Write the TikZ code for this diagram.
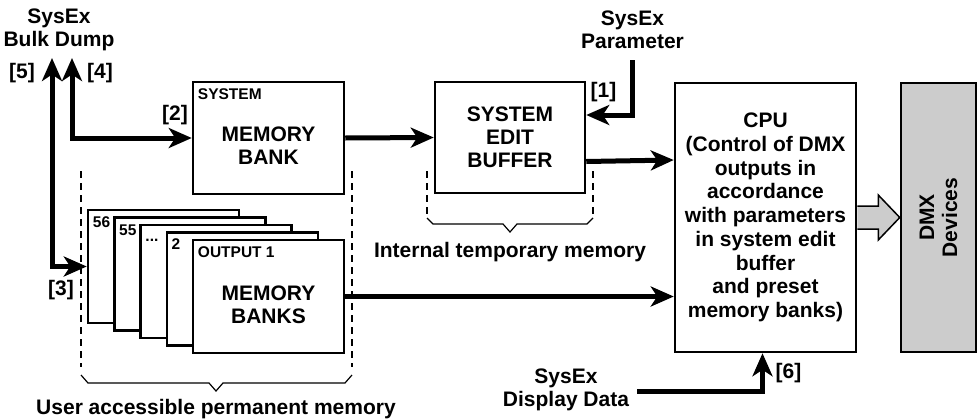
\documentclass[tikz,border=0pt]{standalone}
\usepackage{fontspec}
\setmainfont{Liberation Sans}
\usetikzlibrary{arrows.meta,calc}

\tikzset{
  blk/.style={draw, line width=2.5pt, fill=white, inner sep=0pt, align=center},
  card/.style={blk, minimum width=151pt, minimum height=113pt},
  conn/.style={line width=5pt, line join=miter},
  guide/.style={line width=1.8pt, dash pattern=on 7pt off 5pt},
  brace/.style={line width=1.2pt, line join=miter},
  lbl/.style={inner sep=0pt, align=center},
  tag/.style={inner sep=0pt, anchor=base west, font=\bfseries\fontsize{15.5}{17}\selectfont},
  >={Stealth[length=23pt, width=20pt, inset=6.5pt]}
}

\begin{document}
\begin{tikzpicture}[x=1pt, y=-1pt, font=\bfseries\fontsize{21}{23}\selectfont]
\useasboundingbox (0,0) rectangle (980,418);

% boxes of the upper row (y grows downwards here)
\node[blk, minimum width=151pt, minimum height=112pt] (bank) at (268.5,138) {};
\node[tag] at ($(bank.north west)+(6,18.5)$) {SYSTEM};
\node[lbl] at ($(bank.center)+(0,8)$) {MEMORY\\BANK};

\node[blk, minimum width=150pt, minimum height=111pt] (buf) at (510,137.5) {SYSTEM\\EDIT\\BUFFER};

\node[blk, minimum width=181pt, minimum height=269pt,
      font=\bfseries\fontsize{21}{23.7}\selectfont] (cpu) at (765.5,217.5)
  {CPU\\(Control of DMX\\outputs in\\accordance\\with parameters\\in system edit\\buffer\\and preset\\memory banks)};

\node[blk, fill=gray!40, minimum width=75pt, minimum height=269pt] (dmx) at (938.5,217.5) {};
\node[lbl, rotate=90] at (dmx.center) {DMX\\Devices};

% stack of preset memory banks, back to front
\node[card] (c56) at (163.5,266.5) {};
\node[tag] at ($(c56.north west)+(6,19)$) {56};
\node[card] (c55) at (189.75,274) {};
\node[tag] at ($(c55.north west)+(6,19)$) {55};
\node[card] (cdots) at (216,281.5) {};
\node[tag] at ($(cdots.north west)+(6,18)$) {...};
\node[card] (c2) at (242.25,289) {};
\node[tag] at ($(c2.north west)+(6,18)$) {2};
\node[card] (c1) at (268.5,296.5) {};
\node[tag] at ($(c1.north west)+(6,18.5)$) {OUTPUT 1};
\node[lbl] at ($(c1.center)+(0,8)$) {MEMORY\\BANKS};

% block arrow to the DMX devices
\draw[line width=1.5pt, fill=gray!40, line join=miter]
  ($(cpu.east)+(0,11.5)$) -- ($(cpu.east)+(21,11.5)$) -- ($(cpu.east)+(21,22.5)$)
  -- (dmx.west) -- ($(cpu.east)+(21,-22.5)$) -- ($(cpu.east)+(21,-11.5)$)
  -- ($(cpu.east)+(0,-11.5)$);

% external SysEx labels and connector end points
\node[lbl] (bulk) at (59,29.5) {SysEx\\Bulk Dump};
\node[lbl] (param) at (632.5,29.5) {SysEx\\Parameter};
\node[lbl] (disp) at (566,390) {SysEx\\Display Data};
\coordinate (bd5) at (52,58);
\coordinate (bd4) at (72,58);
\coordinate (pin) at (632,60);
\coordinate (din) at (637,391);

% connectors
\draw[conn, <->] (bd5) |- (c56.west);
\draw[conn, <->] (bd4) |- (bank.west);
\draw[conn, ->] (bank.east) -- (buf.west);
\draw[conn, ->] (pin) |- ($(buf.east)+(0,-22.5)$);
\draw[conn, ->] ($(buf.east)+(0,24)$) -- ($(cpu.west)+(0,-57.5)$);
\draw[conn, ->] (c1.east) -- (cpu.west |- c1.east);
\draw[conn, ->] (din) -| ($(cpu.south)+(-3,0)$);

% reference numbers
\node[lbl] at (22,73) {[5]};
\node[lbl] at (100,73) {[4]};
\node[lbl] at (175,115) {[2]};
\node[lbl] at (603.5,92) {[1]};
\node[lbl] at (61,290) {[3]};
\node[lbl] at (788.5,373) {[6]};

% permanent memory grouping
\draw[guide] (81,171) -- (81,367);
\draw[guide] (352,171) -- (352,367);
\draw[brace] (81,375) -- (88,383) -- (209,383) -- (216,391) -- (223,383) -- (345,383) -- (352,375);
\node[lbl] at (216,409) {User accessible permanent memory};

% temporary memory grouping
\draw[guide] (427,171) -- (427,215);
\draw[guide] (593,171) -- (593,215);
\draw[brace] (427,218) -- (433,224) -- (503,224) -- (510,232) -- (517,224) -- (587,224) -- (593,218);
\node[lbl] at (510,252.5) {Internal temporary memory};
\end{tikzpicture}
\end{document}
